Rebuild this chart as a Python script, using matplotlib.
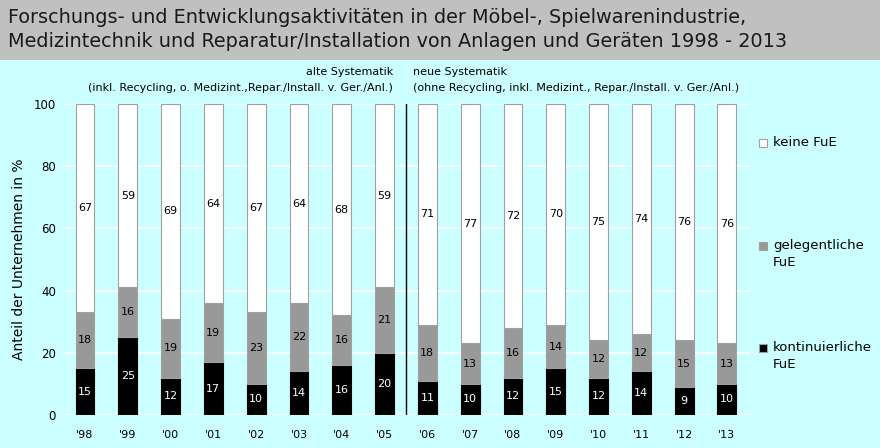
import matplotlib
matplotlib.use("Agg")
import matplotlib.pyplot as plt
from matplotlib.patches import Rectangle
import numpy as np

years = ["'98", "'99", "'00", "'01", "'02", "'03", "'04", "'05",
         "'06", "'07", "'08", "'09", "'10", "'11", "'12", "'13"]
kontinuierlich = [15, 25, 12, 17, 10, 14, 16, 20, 11, 10, 12, 15, 12, 14, 9, 10]
gelegentlich = [18, 16, 19, 19, 23, 22, 16, 21, 18, 13, 16, 14, 12, 12, 15, 13]
keine = [67, 59, 69, 64, 67, 64, 68, 59, 71, 77, 72, 70, 75, 74, 76, 76]
legend_labels = ["keine FuE", "gelegentliche\nFuE", "kontinuierliche\nFuE"]

title_lines = ["Forschungs- und Entwicklungsaktivitäten in der Möbel-, Spielwarenindustrie,",
               "Medizintechnik und Reparatur/Installation von Anlagen und Geräten 1998 - 2013"]

bg = "#CCFFFF"
plt.rcParams['font.family'] = ["DejaVu Sans"]

fig = plt.figure(figsize=(8.8, 4.48), dpi=100, facecolor=bg)
fig.patches.append(Rectangle((0, 1 - 60 / 448), 1, 60 / 448, transform=fig.transFigure,
                             facecolor="#C0C0C0", edgecolor="none", zorder=0))
for line, yb in zip(title_lines, [23, 47]):
    fig.text(8 / 880, 1 - yb / 448, line, ha="left", va="baseline", fontsize=13.9,
             color="#1a1a1a")

fig.text(393 / 880, 1 - 72 / 448, "alte Systematik", ha="right", va="center", fontsize=8)
fig.text(393 / 880, 1 - 88 / 448, "(inkl. Recycling, o. Medizint.,Repar./Install. v. Ger./Anl.)",
         ha="right", va="center", fontsize=8)
fig.text(413 / 880, 1 - 72 / 448, "neue Systematik", ha="left", va="center", fontsize=8)
fig.text(413 / 880, 1 - 88 / 448, "(ohne Recycling, inkl. Medizint., Repar./Install. v. Ger./Anl.)",
         ha="left", va="center", fontsize=8)

ax = fig.add_axes([63 / 880, 1 - 415 / 448, (750 - 63) / 880, (415 - 104) / 448])
ax.set_facecolor(bg)
x = np.arange(len(years))
k = np.array(kontinuierlich)
g = np.array(gelegentlich)
n = np.array(keine)
w = 0.44
ec = "#A0A0A0"
ax.bar(x, k, w, color="black", edgecolor="black", linewidth=0.8, zorder=3)
ax.bar(x, g, w, bottom=k, color="#999999", edgecolor=ec, linewidth=0.8, zorder=3)
# 'keine FuE' segment fills the remainder up to 100 % (labels are rounded values)
ax.bar(x, 100 - k - g, w, bottom=k + g, color="white", edgecolor=ec, linewidth=0.8, zorder=3)

for i in range(len(years)):
    ax.text(x[i], k[i] / 2, str(k[i]), ha="center", va="center", color="white", fontsize=8, zorder=4)
    ax.text(x[i], k[i] + g[i] / 2, str(g[i]), ha="center", va="center", color="black", fontsize=8, zorder=4)
    ax.text(x[i], (k[i] + g[i] + 100) / 2, str(n[i]), ha="center", va="center", color="black", fontsize=8, zorder=4)

ax.plot([7.5, 7.5], [0, 100], color="black", linewidth=1.0, zorder=4)

ax.set_xlim(-0.514, 15.54)
ax.set_ylim(0, 100)
ax.set_yticks(range(0, 101, 20))
ax.grid(axis="y", color="white", linewidth=1.2, zorder=1)
ax.set_axisbelow(True)
for s in ax.spines.values():
    s.set_visible(False)
ax.tick_params(length=0, labelsize=8.5)
ax.tick_params(axis="x", pad=11)
ax.tick_params(axis="y", pad=5)
ax.set_xticks(x)
ax.set_xticklabels(years, fontsize=8)
ax.set_ylabel("Anteil der Unternehmen in %", fontsize=10)
ax.yaxis.set_label_coords((26 - 63) / 687, 0.5)

colors = ["white", "#999999", "black"]
ys = [143, 246, 348]
for lab, c, yy in zip(legend_labels, colors, ys):
    fig.patches.append(Rectangle((759 / 880, 1 - (yy + 4) / 448), 8 / 880, 8 / 448,
                                 transform=fig.transFigure, facecolor=c, edgecolor=ec,
                                 linewidth=0.8))
    fig.text(773 / 880, 1 - (yy - 7) / 448, lab, ha="left", va="top",
             fontsize=9.5, linespacing=1.35)

fig.savefig("out.png", dpi=100, facecolor=bg)
